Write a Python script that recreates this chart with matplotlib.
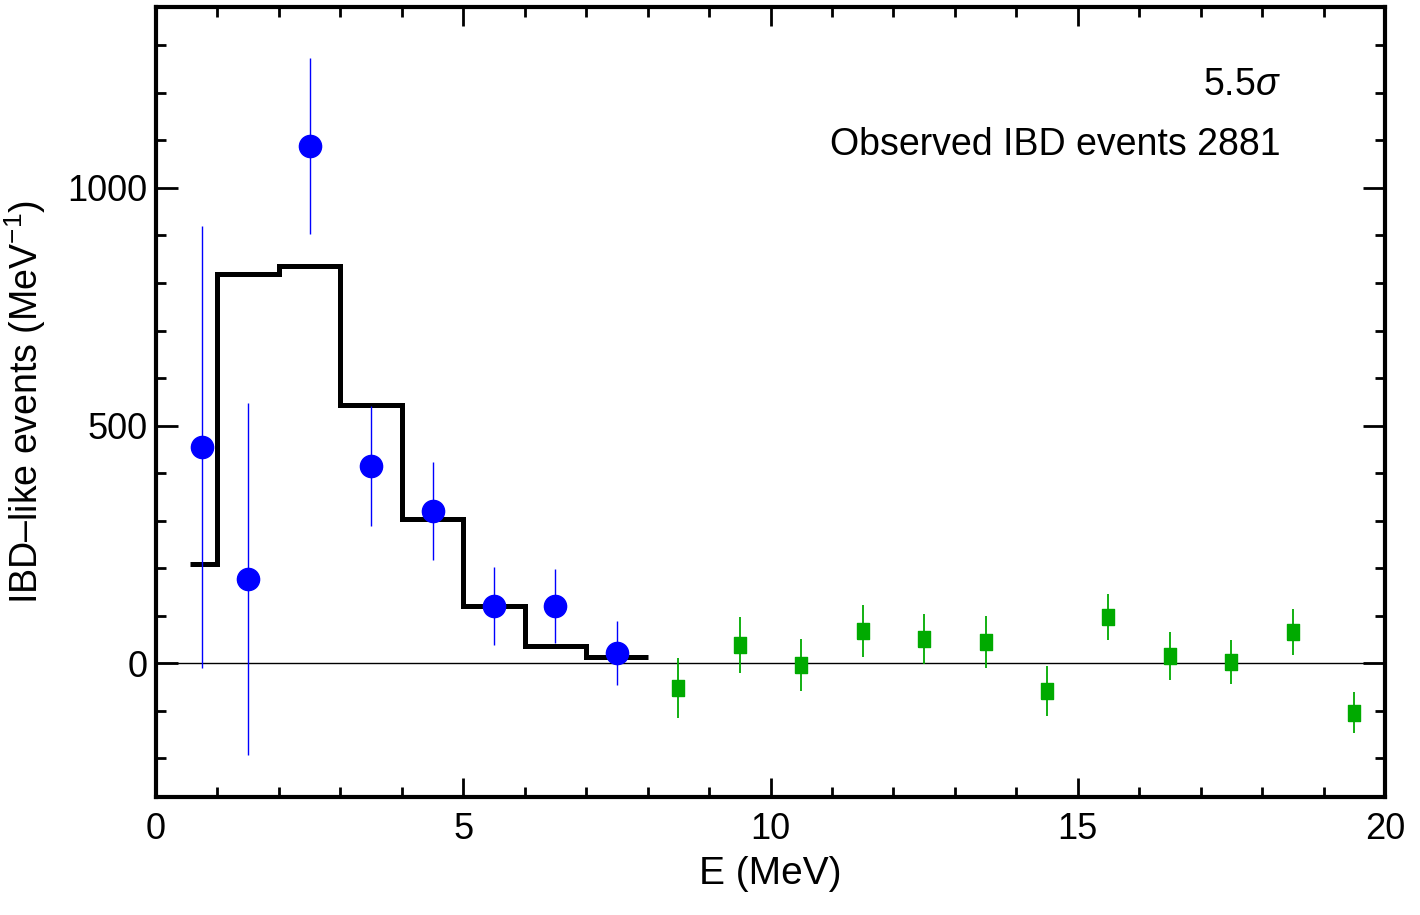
import numpy as np
import matplotlib
matplotlib.use("Agg")
import matplotlib.pyplot as plt
from matplotlib.ticker import MultipleLocator

plt.rcParams['font.family'] = ['Liberation Sans', 'DejaVu Sans']
plt.rcParams['mathtext.fontset'] = 'custom'
plt.rcParams['mathtext.rm'] = 'Liberation Sans'
plt.rcParams['mathtext.it'] = 'Liberation Sans:italic'

# 观测数据 (蓝点)
obs_x = [0.75, 1.5, 2.5, 3.5, 4.5, 5.5, 6.5, 7.5]
obs_y = [455, 177, 1088, 415, 320, 120, 120, 21]
obs_err = [465, 370, 185, 127, 103, 82, 78, 68]

# 高能区 (绿点)
hi_x = [8.5, 9.5, 10.5, 11.5, 12.5, 13.5, 14.5, 15.5, 16.5, 17.5, 18.5, 19.5]
hi_y = [-53, 38, -4, 67, 50, 44, -59, 97, 15, 2, 65, -105]
hi_err = [63, 58, 55, 55, 53, 54, 53, 48, 50, 46, 48, 43]

# 预期直方图
hist_edges = [0.55, 1, 2, 3, 4, 5, 6, 7, 8]
hist_vals = [208, 818, 836, 543, 303, 120, 36, 13]

fig = plt.figure(figsize=(14.2, 9.15), dpi=100)
ax = fig.add_axes([156/1420, 1-797/915, (1385-156)/1420, (797-7)/915])

ax.axhline(0, color='black', lw=1.0, zorder=1)

ax.stairs(hist_vals, hist_edges, color='black', lw=3.6, baseline=None, zorder=2)

ax.errorbar(obs_x, obs_y, yerr=obs_err, fmt='o', color='#0000ff', ms=16,
            elinewidth=1.0, capsize=0, zorder=3)

rect = [(-0.37, -0.5), (0.37, -0.5), (0.37, 0.5), (-0.37, 0.5), (-0.37, -0.5)]
ax.errorbar(hi_x, hi_y, yerr=hi_err, fmt='none', ecolor='#00aa00',
            elinewidth=1.3, capsize=0, zorder=3)
ax.plot(hi_x, hi_y, ls='none', marker=rect, ms=11, color='#00aa00', zorder=4)

ax.set_xlim(0, 20)
ax.set_ylim(-282, 1381)
ax.xaxis.set_major_locator(MultipleLocator(5))
ax.xaxis.set_minor_locator(MultipleLocator(1))
ax.yaxis.set_major_locator(MultipleLocator(500))
ax.yaxis.set_minor_locator(MultipleLocator(100))

ax.tick_params(axis='both', which='both', direction='in', top=True, right=True,
               labelsize=26, width=2)
ax.tick_params(axis='x', which='major', length=13.5, pad=11)
ax.tick_params(axis='y', which='major', length=16, pad=6)
ax.tick_params(axis='both', which='minor', length=7)
for s in ax.spines.values():
    s.set_linewidth(3)

ax.set_xlabel('E (MeV)', fontsize=28, labelpad=6)
ax.set_ylabel('IBD\u2013like events (MeV$^{-1}$)', fontsize=27, labelpad=14)

ax.text(0.915, 0.901, '5.5$\\mathit{\\sigma}$', transform=ax.transAxes,
        ha='right', va='center', fontsize=27)
ax.text(0.915, 0.825, 'Observed IBD events 2881', transform=ax.transAxes,
        ha='right', va='center', fontsize=27)

fig.savefig('out.png', dpi=100)
